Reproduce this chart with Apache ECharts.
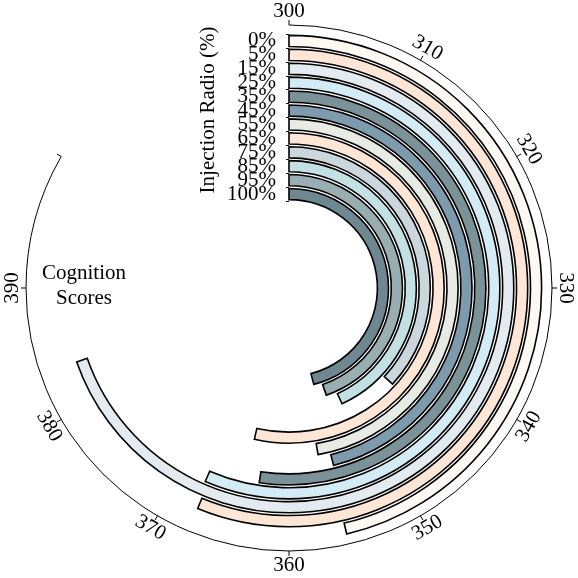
<!DOCTYPE html>
<html>
<head>
<meta charset="utf-8">
<script src="https://cdn.jsdelivr.net/npm/echarts@6/dist/echarts.min.js"></script>
<style>
    html, body { margin: 0; padding: 0; background: #fff; }
    #chart { width: 578px; height: 578px; }
</style>
</head>
<body>
<div id="chart"></div>
<script>
(function () {
    // injection ratio categories, outermost ring first
    var categories = ['0%', '5%', '15%', '25%', '35%', '45%', '55%', '65%', '75%', '85%', '95%', '100%'];
    // cognition score reached by each ring
    var scores = [355.6, 367.5, 383.6, 367.8, 362.9, 355.3, 356.7, 364.3, 344.3, 351.8, 353.6, 355.2];
    var barColors = ['#fdf8f1', '#fde6d6', '#e3ebf1', '#d3ebf4', '#7b9299', '#7e9aad',
                     '#e8eae4', '#fde6d6', '#ccd6dd', '#c3e0e5', '#98aeb3', '#6f8791'];
    var angleTicks = [300, 310, 320, 330, 340, 350, 360, 370, 380, 390];

    var font = 'Liberation Serif';
    var chart = echarts.init(document.getElementById('chart'));

    var barData = scores.map(function (v, i) {
        return { value: v, itemStyle: { color: barColors[i] } };
    });

    // tangential tick labels on the outer angle axis
    var renderTickLabel = function (params, api) {
        var cs = params.coordSys;
        var p = api.coord([1, api.value(1)]);
        var dx = p[0] - cs.cx, dy = p[1] - cs.cy;
        var len = Math.sqrt(dx * dx + dy * dy);
        var r = len + 14;
        var x = cs.cx + dx / len * r, y = cs.cy + dy / len * r;
        var theta = Math.atan2(dx, -dy); // clockwise from top
        if (theta < 0) theta += Math.PI * 2;
        var rot = (theta > Math.PI / 2 + 1e-6 && theta < Math.PI * 1.5 - 1e-6) ? Math.PI - theta : -theta;
        return {
            type: 'text',
            x: x, y: y, rotation: rot,
            style: {
                text: String(api.value(1)),
                fontFamily: font, fontSize: 21, fill: '#000',
                align: 'center', verticalAlign: 'middle'
            }
        };
    };

    var option = {
        backgroundColor: '#fff',
        animation: false,
        polar: [
            { center: [289, 288], radius: [0, 263] },
            { center: [289, 288], radius: [87, 254] }
        ],
        angleAxis: [{
            polarIndex: 0,
            type: 'value', min: 300, max: 400, interval: 10,
            startAngle: 90, endAngle: -210, clockwise: true,
            axisLine: { lineStyle: { color: '#000', width: 1 } },
            axisTick: { show: true, inside: false, length: 5, lineStyle: { color: '#000' } },
            axisLabel: { show: false },
            splitLine: { show: false }
        }, {
            polarIndex: 1,
            type: 'value', min: 300, max: 400, startValue: 300,
            startAngle: 90, endAngle: -210, clockwise: true,
            show: false
        }],
        radiusAxis: [{
            polarIndex: 0,
            type: 'value', min: 0, max: 1,
            show: false
        }, {
            polarIndex: 1,
            type: 'category',
            data: categories,
            inverse: true,
            axisLine: { show: false },
            axisTick: { show: true, length: 3, lineStyle: { color: '#000' } },
            axisLabel: {
                interval: 0, hideOverlap: false, margin: 13,
                fontFamily: font, fontSize: 21, color: '#000'
            },
            splitLine: { show: false }
        }],
        graphic: [{
            type: 'text',
            x: 208, y: 110, rotation: Math.PI / 2,
            style: {
                text: 'Injection Radio (%)', fontFamily: font, fontSize: 21, fill: '#000',
                align: 'center', verticalAlign: 'middle'
            }
        }, {
            type: 'text',
            x: 84, y: 286,
            style: {
                text: 'Cognition\nScores', fontFamily: font, fontSize: 21, fill: '#000',
                align: 'center', verticalAlign: 'middle', lineHeight: 25
            }
        }],
        series: [{
            type: 'bar',
            coordinateSystem: 'polar',
            polarIndex: 1,
            data: barData,
            barCategoryGap: '20%',
            itemStyle: { borderColor: '#000', borderWidth: 1.6 }
        }, {
            type: 'custom',
            coordinateSystem: 'polar',
            polarIndex: 0,
            data: angleTicks.map(function (v) { return [1, v]; }),
            encode: { radius: 0, angle: 1 },
            clip: false,
            renderItem: renderTickLabel
        }]
    };

    chart.setOption(option);
})();
</script>
</body>
</html>
